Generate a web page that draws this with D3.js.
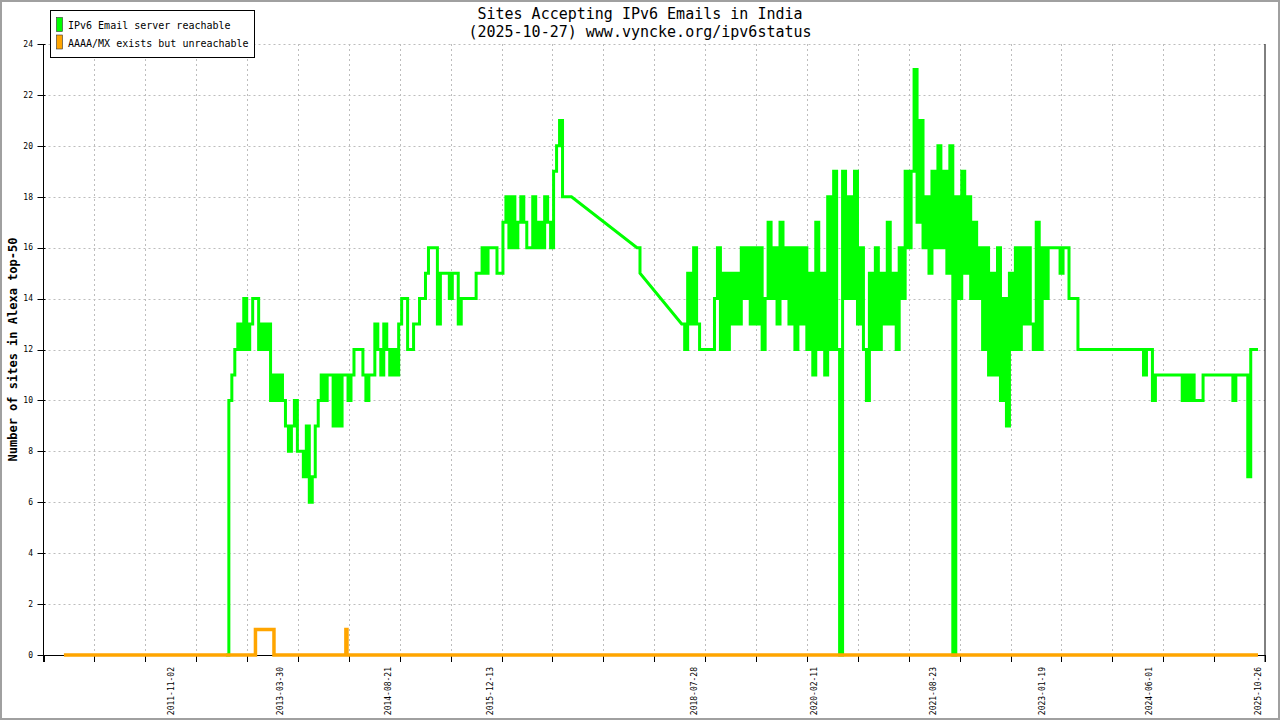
<!DOCTYPE html>
<html>
<head>
<meta charset="utf-8">
<script src="https://cdn.jsdelivr.net/npm/d3@7"></script>
<style>
  html, body { margin: 0; padding: 0; background: #ffffff; }
  svg { display: block; }
</style>
</head>
<body>
<svg id="chart" width="1280" height="720"></svg>
<script>
// ---------------- data ----------------
const titleLines = ["Sites Accepting IPv6 Emails in India", "(2025-10-27) www.vyncke.org/ipv6status"];
const yAxisTitle = "Number of sites in Alexa top-50";
const seriesNames = ["IPv6 Email server reachable", "AAAA/MX exists but unreachable"];
const seriesColors = ["#00ff00", "#ffa500"];

const xDomain = ["2010-03-13", "2025-11-29"];
const xTickLabels = ["2011-11-02", "2013-03-30", "2014-08-21", "2015-12-13", "2018-07-28",
                     "2020-02-11", "2021-08-23", "2023-01-19", "2024-06-01", "2025-10-26"];
const yTickValues = [0, 2, 4, 6, 8, 10, 12, 14, 16, 18, 20, 22, 24];
const yMax = 24;
const xGridDivisions = 24;

// "IPv6 Email server reachable": one reading every 14 days from reachableStart (null = no reading)
const reachableStart = "2012-07-17";
const reachableStepDays = 14;
const reachableValues = [
  0,10,11,12,13,12,14,12,13,14,14,12,13,12,13,10,11,10,11,10,
  9,8,9,10,8,8,7,9,6,7,9,10,11,10,11,11,9,11,9,11,
  11,10,11,12,12,12,11,10,11,11,13,12,11,13,12,11,12,11,13,14,
  14,12,12,13,13,14,14,15,16,16,16,13,15,15,15,14,15,15,13,14,
  14,14,14,14,15,15,16,15,16,16,16,15,15,17,18,16,18,16,17,18,
  17,16,16,18,16,17,16,18,17,16,19,20,21,18,18,18,18,null,null,null,
  null,null,null,null,null,null,null,null,null,null,null,null,null,null,null,null,null,null,16,15,
  null,null,null,null,null,null,null,null,null,null,null,null,null,13,12,15,13,16,13,12,
  12,12,12,12,14,16,12,15,12,15,13,15,13,16,14,16,13,16,13,16,
  12,14,17,14,16,13,17,14,16,13,16,12,16,13,16,12,15,11,17,12,
  15,11,18,12,19,12,0,19,14,18,14,19,13,16,12,10,15,12,16,12,
  15,13,17,13,15,12,16,14,19,16,19,23,17,21,16,18,15,19,16,20,
  16,19,15,20,0,18,14,19,15,18,14,17,14,16,12,16,11,15,11,16,
  10,14,9,15,12,16,12,16,13,16,13,12,17,12,16,14,16,16,16,16,
  15,16,16,14,14,14,12,12,12,12,12,12,12,12,12,12,12,12,12,12,
  12,12,12,12,12,12,12,12,11,12,12,10,11,11,11,11,11,11,11,11,
  11,10,11,10,11,10,10,10,11,11,11,11,11,11,11,11,11,11,10,11,
  11,11,11,7,12,12,12
];
const lastDate = "2025-10-27";

// "AAAA/MX exists but unreachable": value changes (step after)
const unreachableDates  = ["2010-06-17", "2012-12-03", "2013-02-28", "2014-02-01", "2014-02-06", "2025-10-27"];
const unreachableValues = [0, 1, 0, 1, 0, 0];

// ---------------- layout ----------------
const W = 1280, H = 720;
const plot = { left: 43.5, right: 1265, top: 44, bottom: 655 };
const MONO = "'DejaVu Sans Mono', 'Liberation Mono', monospace";

const parse = d3.utcParse("%Y-%m-%d");
const svg = d3.select("#chart");

const x = d3.scaleUtc().domain(xDomain.map(parse)).range([plot.left, plot.right]);
const y = d3.scaleLinear().domain([0, yMax]).range([plot.bottom, plot.top]);

// background + frame
svg.append("rect").attr("x", 0).attr("y", 0).attr("width", W).attr("height", H).attr("fill", "#fff");
svg.append("rect").attr("x", 1).attr("y", 1).attr("width", W - 2).attr("height", H - 2)
  .attr("fill", "none").attr("stroke", "#a0a0a0").attr("stroke-width", 2);

// grid
const [d0, d1] = x.domain();
const gridDates = d3.range(1, xGridDivisions).map(k => new Date(+d0 + k * (d1 - d0) / xGridDivisions));
const allTickDates = d3.range(0, xGridDivisions + 1).map(k => new Date(+d0 + k * (d1 - d0) / xGridDivisions));
const grid = svg.append("g").attr("stroke", "#bdbdbd").attr("stroke-width", 1).attr("stroke-dasharray", "2,3");
grid.selectAll("line.v").data(gridDates).join("line").attr("class", "v")
  .attr("x1", d => Math.round(x(d)) + 0.5).attr("x2", d => Math.round(x(d)) + 0.5)
  .attr("y1", plot.top).attr("y2", plot.bottom);
grid.selectAll("line.h").data(yTickValues.filter(v => v > 0)).join("line").attr("class", "h")
  .attr("x1", plot.left).attr("x2", plot.right)
  .attr("y1", d => Math.round(y(d)) + 0.5).attr("y2", d => Math.round(y(d)) + 0.5);

// axes lines
const axes = svg.append("g").attr("stroke", "#000").attr("stroke-width", 1);
axes.append("line").attr("x1", plot.left).attr("x2", plot.left).attr("y1", plot.top).attr("y2", plot.bottom + 7);
axes.append("line").attr("x1", plot.right).attr("x2", plot.right).attr("y1", plot.top).attr("y2", plot.bottom + 7);
axes.append("line").attr("x1", plot.left).attr("x2", plot.right).attr("y1", plot.bottom + 0.5).attr("y2", plot.bottom + 0.5);
// x ticks
axes.selectAll("line.xt").data(allTickDates).join("line").attr("class", "xt")
  .attr("x1", d => Math.round(x(d)) + 0.5).attr("x2", d => Math.round(x(d)) + 0.5)
  .attr("y1", plot.bottom).attr("y2", plot.bottom + 7);
// y ticks
axes.selectAll("line.yt").data(yTickValues).join("line").attr("class", "yt")
  .attr("x1", plot.left - 6).attr("x2", plot.left + 2)
  .attr("y1", d => Math.round(y(d)) + 0.5).attr("y2", d => Math.round(y(d)) + 0.5);

// y labels
svg.append("g").selectAll("text").data(yTickValues).join("text")
  .attr("x", 33).attr("y", d => y(d)).attr("dy", "0.35em")
  .attr("text-anchor", "end").attr("font-family", MONO).attr("font-size", 8).attr("fill", "#000")
  .text(d => d);

// x labels (rotated)
svg.append("g").selectAll("text").data(xTickLabels).join("text")
  .attr("transform", d => `translate(${x(parse(d))},${plot.bottom + 12}) rotate(-90)`)
  .attr("dy", "0.35em").attr("text-anchor", "end")
  .attr("font-family", MONO).attr("font-size", 8).attr("fill", "#000")
  .text(d => d);

// y axis title
svg.append("text")
  .attr("transform", `translate(13,${(plot.top + plot.bottom) / 2}) rotate(-90)`)
  .attr("text-anchor", "middle").attr("dy", "0.35em")
  .attr("font-family", MONO).attr("font-weight", "bold").attr("font-size", 12).attr("fill", "#000")
  .text(yAxisTitle);

// title
svg.append("g").selectAll("text").data(titleLines).join("text")
  .attr("x", W / 2).attr("y", (d, i) => 18.5 + i * 18.5)
  .attr("text-anchor", "middle").attr("font-family", MONO).attr("font-size", 15).attr("fill", "#000")
  .text(d => d);

// ---------------- series ----------------
const startDate = parse(reachableStart);
const reachablePts = reachableValues
  .map((v, i) => ({ i, date: d3.utcDay.offset(startDate, i * reachableStepDays), value: v }))
  .filter(d => d.value !== null);
const lastPt = reachablePts[reachablePts.length - 1];
reachablePts.push({ i: lastPt.i + 1, date: parse(lastDate), value: lastPt.value });

const unreachablePts = unreachableDates.map((d, i) => ({ i, date: parse(d), value: unreachableValues[i] }));

// step-after path; readings separated by missing data are joined straight
function stepPath(pts) {
  const p = d3.path();
  pts.forEach((d, k) => {
    const X = x(d.date), Y = y(d.value);
    if (k === 0) { p.moveTo(X, Y); return; }
    const prev = pts[k - 1];
    if (d.i - prev.i > 1) { p.lineTo(X, Y); }
    else { p.lineTo(X, y(prev.value)); p.lineTo(X, Y); }
  });
  return p.toString();
}

svg.append("path").attr("d", stepPath(reachablePts))
  .attr("fill", "none").attr("stroke", seriesColors[0]).attr("stroke-width", 3)
  .attr("stroke-linejoin", "miter").attr("stroke-linecap", "butt");
svg.append("path").attr("d", stepPath(unreachablePts))
  .attr("fill", "none").attr("stroke", seriesColors[1]).attr("stroke-width", 3.5)
  .attr("stroke-linejoin", "miter").attr("stroke-linecap", "butt");

// ---------------- legend ----------------
const lg = svg.append("g");
lg.append("rect").attr("x", 50.5).attr("y", 10.5).attr("width", 204).attr("height", 47)
  .attr("fill", "#fff").attr("stroke", "#000").attr("stroke-width", 1);
seriesNames.forEach((name, i) => {
  lg.append("rect").attr("x", 56.5).attr("y", 17.5 + i * 17.5).attr("width", 6).attr("height", 14)
    .attr("fill", seriesColors[i]).attr("stroke", "#333").attr("stroke-width", 0.6);
  lg.append("text").attr("x", 68).attr("y", 29 + i * 17.5)
    .attr("font-family", MONO).attr("font-size", 10).attr("fill", "#000").text(name);
});
</script>
</body>
</html>
